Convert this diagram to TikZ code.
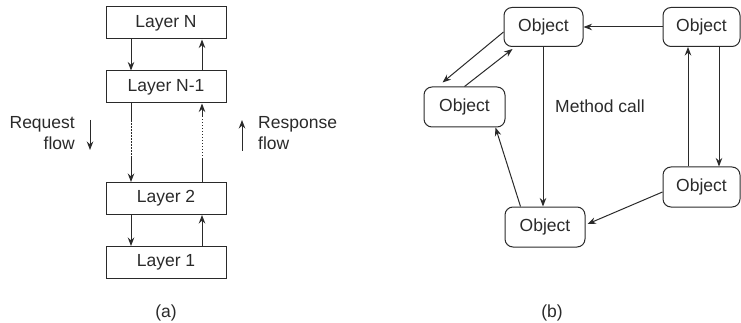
\documentclass[tikz,border=0pt]{standalone}
\usepackage{fontspec}
\setmainfont{Liberation Sans}
\usetikzlibrary{arrows.meta,calc}
\definecolor{ink}{HTML}{2A2A2A}
\tikzset{
  layerbox/.style={draw=ink, line width=1pt, minimum width=120pt, minimum height=32pt, inner sep=0pt, text=ink, font=\fontsize{17.5}{20}\selectfont},
  objbox/.style={draw=ink, line width=1pt, rounded corners=8pt, minimum width=79pt, minimum height=39pt, inner sep=0pt, text=ink, font=\fontsize{17.5}{20}\selectfont},
  arr/.style={draw=ink, line width=1pt, -{Stealth[length=8.5pt,width=6.5pt]}},
  ln/.style={draw=ink, line width=1pt},
  dln/.style={draw=ink, line width=1pt, dash pattern=on 1.2pt off 1.8pt},
  lbl/.style={text=ink, inner sep=0pt, font=\fontsize{17.5}{21}\selectfont}
}
\begin{document}
\begin{tikzpicture}[x=1pt,y=-1pt]
\useasboundingbox (0,0) rectangle (741,323);
% (a) layers
\node[layerbox] (LN) at (166,23) {Layer N};
\node[layerbox] (LN1) at (166,87) {Layer N-1};
\node[layerbox] (L2) at (166,198.5) {Layer 2};
\node[layerbox] (L1) at (166,262.5) {Layer 1};
\draw[arr] ($(LN.south)+(-35,0)$) -- ($(LN1.north)+(-35,0)$);
\draw[arr] ($(LN1.north)+(36,0)$) -- ($(LN.south)+(36,0)$);
\draw[arr] ($(L2.south)+(-35,0)$) -- ($(L1.north)+(-35,0)$);
\draw[arr] ($(L1.north)+(36,0)$) -- ($(L2.south)+(36,0)$);
% dotted middle links
\coordinate (la) at ($(LN1.south)+(-35,17)$);
\coordinate (lb) at ($(LN1.south)+(-35,54)$);
\draw[ln] ($(LN1.south)+(-35,0)$) -- (la);
\draw[dln] (la) -- (lb);
\draw[arr] (lb) -- ($(L2.north)+(-35,0)$);
\coordinate (ra) at ($(L2.north)+(36,-23)$);
\coordinate (rb) at ($(L2.north)+(36,-66)$);
\draw[ln] ($(L2.north)+(36,0)$) -- (ra);
\draw[dln] (ra) -- (rb);
\draw[arr] (rb) -- ($(LN1.south)+(36,0)$);
% flow labels
\node[lbl, align=right, anchor=east] (req) at (75,133) {Request\\flow};
\coordinate (rqa) at (90,120);
\coordinate (rqb) at (90,150);
\draw[arr] (rqa) -- (rqb);
\node[lbl, align=left, anchor=west] (resp) at (258,133) {Response\\flow};
\coordinate (rsa) at (242,151);
\coordinate (rsb) at (242,120);
\draw[arr] (rsa) -- (rsb);
\node[lbl] (capa) at (166,313) {(a)};
% (b) objects
\node[objbox] (TC) at (543.5,27) {Object};
\node[objbox, minimum width=77pt] (TR) at (701.5,27) {Object};
\node[objbox, minimum width=81pt, minimum height=40pt] (OL) at (464.5,107) {Object};
\node[objbox, minimum width=80pt, minimum height=40pt] (OB) at (545,227) {Object};
\node[objbox, minimum width=77pt, minimum height=40pt] (BR) at (701.5,187) {Object};
\draw[arr] (TR.west) -- (TC.east);
\draw[arr] ($(TC.west)+(0,5)$) -- ($(OL.north west)+(19,-4)$);
\draw[arr] ($(OL.north west)+(41,0)$) -- ($(TC.south west)+(9,2)$);
\draw[arr] ($(TC.south)+(-0.5,0)$) -- ($(OB.north)+(-2,0)$);
\draw[arr] ($(OB.north west)+(16,0)$) -- ($(OL.south east)+(-10,0)$);
\draw[arr] ($(BR.west)+(0,5)$) -- ($(OB.east)+(2,-3)$);
\draw[arr] ($(BR.north)+(-13.5,0)$) -- ($(TR.south)+(-13.5,0)$);
\draw[arr] ($(TR.south)+(17.5,0)$) -- ($(BR.north)+(17.5,0)$);
\node[lbl, anchor=west] (mc) at (555,106) {Method call};
\node[lbl] (capb) at (552,313) {(b)};
\end{tikzpicture}
\end{document}
